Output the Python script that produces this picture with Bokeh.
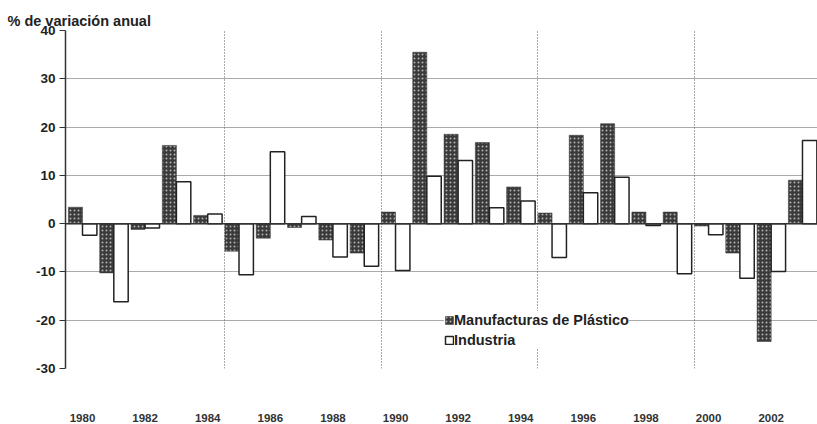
from bokeh.plotting import figure
from bokeh.models import ColumnDataSource, FixedTicker, Span, Legend, LegendItem, Title
from bokeh.transform import dodge
from bokeh.embed import file_html
from bokeh.resources import INLINE

years = list(range(1980, 2004))
manufacturas = [3.4, -10.2, -1.2, 16.2, 1.7, -5.7, -3.0, -0.8, -3.4, -6.1, 2.4, 35.5,
                18.5, 16.8, 7.6, 2.2, 18.3, 20.7, 2.4, 2.4, -0.5, -6.1, -24.4, 9.0]
industria = [-2.4, -16.2, -0.9, 8.7, 2.0, -10.6, 14.9, 1.5, -6.9, -8.8, -9.7, 9.8,
             13.1, 3.3, 4.7, -7.0, 6.4, 9.6, -0.4, -10.4, -2.3, -11.3, -9.9, 17.2]
y_ticks = [-30, -20, -10, 0, 10, 20, 30, 40]
x_ticks = [y for y in years if y % 2 == 0]
series_names = ["Manufacturas de Plástico", "Industria"]
y_title = "% de variación anual"

FONT = "Liberation Sans"
BAR_W = 0.45
# vertical grid lines sit on the left edge of each five-year group of bars
grid_years = [y - BAR_W for y in years[1:] if y % 5 == 0]

src = ColumnDataSource(dict(year=years, mfg=manufacturas, ind=industria))

p = figure(width=817, height=424, x_range=(years[0] - 0.543, years[-1] + 0.48),
           y_range=(y_ticks[0], y_ticks[-1]), output_backend="svg", toolbar_location=None,
           min_border_left=65, min_border_right=0, min_border_top=30, min_border_bottom=0)
p.outline_line_color = None
p.background_fill_color = "white"

# grids
p.ygrid.ticker = FixedTicker(ticks=y_ticks)
p.ygrid.grid_line_color = "#555555"
p.ygrid.grid_line_dash = "1 1"
p.ygrid.grid_line_width = 1
p.xgrid.ticker = FixedTicker(ticks=grid_years)
p.xgrid.grid_line_color = "#555555"
p.xgrid.grid_line_dash = "1 2"
p.xgrid.grid_line_width = 1

# y axis
p.yaxis.ticker = FixedTicker(ticks=y_ticks)
p.yaxis.major_label_overrides = {t: str(t) for t in y_ticks}
p.yaxis.axis_line_color = "#333333"
p.yaxis.axis_line_width = 1.5
p.yaxis.major_tick_out = 6
p.yaxis.major_tick_in = 0
p.yaxis.major_tick_line_color = "#333333"
p.yaxis.minor_tick_line_color = None
p.yaxis.major_label_text_font = FONT
p.yaxis.major_label_text_font_style = "bold"
p.yaxis.major_label_text_font_size = "13.5px"
p.yaxis.major_label_text_color = "#222222"
p.yaxis.major_label_standoff = 4

# x axis
p.xaxis.ticker = FixedTicker(ticks=x_ticks)
p.xaxis.axis_line_color = None
p.xaxis.major_tick_line_color = None
p.xaxis.minor_tick_line_color = None
p.xaxis.major_tick_out = 0
p.xaxis.major_label_standoff = 45
p.xaxis.major_label_text_font = FONT
p.xaxis.major_label_text_font_style = "bold"
p.xaxis.major_label_text_font_size = "11.5px"
p.xaxis.major_label_text_color = "#333333"

r1 = p.vbar(x=dodge("year", -BAR_W / 2, range=p.x_range), top="mfg", bottom=0, width=BAR_W,
            source=src, fill_color="#3a3a3a", hatch_pattern="dot", hatch_color="#b0b0b0",
            hatch_scale=4, hatch_weight=1, line_color="#333333", line_width=0.5)
r2 = p.vbar(x=dodge("year", 0.23, range=p.x_range), top="ind", bottom=0, width=0.46,
            source=src, fill_color="white", line_color="#222222", line_width=1.5)

p.add_layout(Span(location=0, dimension="width", line_color="#333333", line_width=1.5))

legend = Legend(items=[LegendItem(label=series_names[0], renderers=[r1]),
                       LegendItem(label=series_names[1], renderers=[r2])],
                location=(379, 20), orientation="vertical")
legend.border_line_color = None
legend.background_fill_color = "white"
legend.background_fill_alpha = 1
legend.padding = 6
legend.margin = 0
legend.spacing = 3
legend.label_standoff = 0
legend.glyph_width = 10
legend.glyph_height = 10
legend.label_text_font = FONT
legend.label_text_font_style = "bold"
legend.label_text_font_size = "14.5px"
legend.label_text_color = "#222222"
legend.label_height = 17
p.add_layout(legend, "center")

title = Title(text=y_title, align="left", offset=-58, text_font=FONT, text_font_style="bold",
              text_font_size="14.5px", text_color="#222222", standoff=4)
p.add_layout(title, "above")

open("out.html", "w").write(file_html(p, INLINE))
